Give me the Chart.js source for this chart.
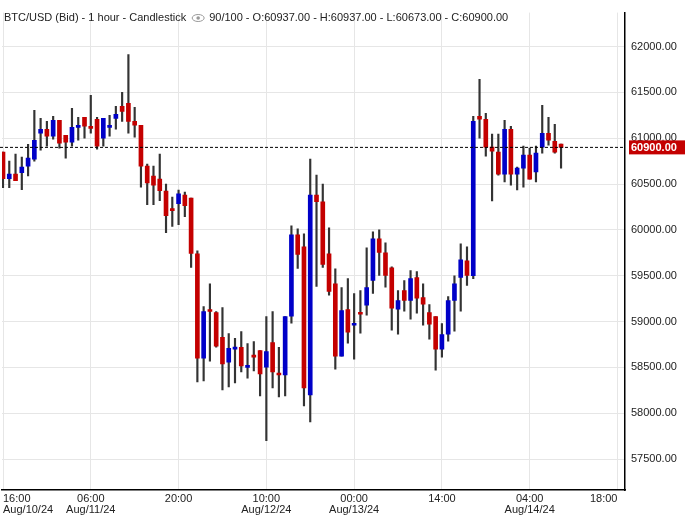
<!DOCTYPE html>
<html>
<head>
<meta charset="utf-8">
<script src="https://cdn.jsdelivr.net/npm/chart.js@4"></script>
<style>
body{margin:0;background:#fff}
#wrap{width:686px;height:515px;position:relative}
</style>
</head>
<body>
<div id="wrap"><canvas id="c"></canvas></div>
<script>
const TITLE="BTC/USD (Bid) - 1 hour - Candlestick";
const TITLE2="90/100 - O:60937.00 - H:60937.00 - L:60673.00 - C:60900.00";
const LAST=60900;

const opens=[60848,60558,60608,60623,60695,60772,61054,61098,61021,61195,
61032,60956,61119,61228,61130,61206,61000,61119,61217,61348,
61380,61184,61141,60695,60587,60555,60424,60218,60287,60381,
60348,59740,58602,59116,59098,58827,58558,58700,58718,58500,
58631,58685,58504,58772,58435,58417,59058,59946,59816,58200,
60381,60305,59739,59413,58624,59131,58960,59087,59178,59450,
59903,59750,59587,59134,59337,59232,59479,59261,59098,59055,
58700,58863,59232,59482,59663,59500,61239,61207,60902,60848,
60609,61098,60609,60674,60815,60631,60902,61054,60967,60937];
const closes=[60558,60608,60536,60685,60782,60978,61098,61021,61195,60945,
60956,61119,61141,61130,61108,60913,61217,61130,61261,61293,
61184,61141,60695,60511,60489,60428,60156,60210,60392,60265,
59743,58602,59109,59110,58732,58537,58707,58714,58515,58508,
58613,58428,58674,58450,58417,59055,59946,59732,58276,60381,
60308,59624,59330,58624,59120,58884,58982,59080,59370,59903,
59754,59504,59145,59229,59232,59468,59254,59189,58971,58700,
58859,59229,59413,59674,59504,61185,61207,60902,60859,60609,
61098,60609,60674,60815,60554,60837,61054,60978,60848,60900];
const highs=[60848,60750,60826,60793,60934,61304,61217,61184,61239,61195,
61032,61326,61228,61228,61467,61228,61217,61250,61348,61500,
61913,61337,61141,60717,60695,60826,60500,60359,60435,60413,
60348,59772,59163,59413,59109,59153,58870,58816,58892,58761,
58783,58685,59055,59109,58718,59055,60044,60011,59957,60772,
60598,60500,60022,59576,59370,59468,59305,59337,59805,59979,
60000,59859,59598,59337,59446,59555,59544,59413,59185,59055,
58979,59272,59500,59848,59816,61239,61641,61272,61044,61044,
61196,61130,60685,60913,60891,60913,61359,61228,61152,60937];
const lows=[60460,60460,60536,60438,60590,60750,60869,60913,60989,60891,
60782,60913,60978,61000,61054,60880,60913,61021,61098,61184,
61054,61011,60467,60275,60275,60319,59971,60037,60058,60145,
59591,58341,58352,58569,58721,58254,58287,58330,58450,58384,
58461,58189,57700,58276,58178,58189,58982,59580,58080,57906,
59384,59591,59287,58482,58624,58765,58591,58874,59069,59308,
59504,59374,58906,58863,59113,59026,59091,58961,58808,58471,
58613,58787,58895,59113,59395,59468,61000,60804,60315,60598,
60522,60489,60435,60467,60554,60522,60837,60924,60837,60673];

// hour index -> axis label (two lines where the day changes)
const tickHours=[0,14,28,42,56,70,84,98];
const tickLabels=[["16:00","Aug/10/24"],["06:00","Aug/11/24"],"20:00",["10:00","Aug/12/24"],
  ["00:00","Aug/13/24"],"14:00",["04:00","Aug/14/24"],"18:00"];
const yTicks=[57500,58000,58500,59000,59500,60000,60500,61000,61500,62000];

const UP="#0000c8",DOWN="#c40000",WICK="#333";
const idx=opens.map((_,i)=>i);
const colors=idx.map(i=>closes[i]>=opens[i]?UP:DOWN);

/* ===== overlays ===== */
const overlay={
  id:"overlay",
  afterDatasetsDraw(ch){
    const {ctx,chartArea:a,scales:{y}}=ch;
    const py=y.getPixelForValue(LAST);
    ctx.save();
    ctx.strokeStyle="#000";ctx.lineWidth=1;ctx.setLineDash([3,2]);
    ctx.beginPath();ctx.moveTo(0,py);ctx.lineTo(a.right,py);ctx.stroke();
    ctx.setLineDash([]);
    ctx.fillStyle="#c40000";
    ctx.fillRect(a.right+4,py-7,56,14);
    ctx.fillStyle="#fff";ctx.font="bold 11px 'Liberation Sans'";
    ctx.textBaseline="middle";ctx.fillText(LAST.toFixed(2),a.right+6,py+0.5);
    // title
    ctx.fillStyle="#222";ctx.font="11px 'Liberation Sans'";ctx.textBaseline="middle";
    ctx.fillText(TITLE,4,18);
    let w=ctx.measureText(TITLE).width+10;
    ctx.strokeStyle="#999";ctx.lineWidth=1;
    ctx.beginPath();ctx.ellipse(w+6,18,6,3.5,0,0,Math.PI*2);ctx.stroke();
    ctx.beginPath();ctx.arc(w+6,18,1.8,0,Math.PI*2);ctx.fillStyle="#999";ctx.fill();
    ctx.fillStyle="#222";ctx.fillText(TITLE2,w+17,18);
    ctx.restore();
  }
};

new Chart(document.getElementById("c"),{
  type:"bar",
  data:{datasets:[
    {data:idx.map(i=>({x:i,y:[lows[i],highs[i]]})),backgroundColor:WICK,barThickness:1.5,grouped:false,order:2},
    {data:idx.map(i=>({x:i,y:[Math.min(opens[i],closes[i]),Math.max(opens[i],closes[i])]})),
     backgroundColor:colors,barThickness:4,minBarLength:2,grouped:false,order:1}
  ]},
  options:{
    responsive:true,maintainAspectRatio:false,animation:false,
    layout:{padding:0},
    plugins:{legend:{display:false},tooltip:{enabled:false}},
    scales:{
      x:{type:"linear",offset:false,min:-0.16,max:99.2,
        afterBuildTicks:s=>{s.ticks=tickHours.map(v=>({value:v}))},
        afterFit:s=>{s.height=25},
        grid:{color:"#e6e6e6",drawTicks:false,offset:false},
        border:{color:"#000",width:1.5},
        ticks:{align:"inner",padding:3,maxRotation:0,autoSkip:false,color:"#222",
          font:{family:"Liberation Sans",size:11,lineHeight:1.05},
          callback:v=>tickLabels[tickHours.indexOf(v)]}},
      y:{position:"right",min:57163,max:62370,
        afterBuildTicks:s=>{s.ticks=yTicks.map(v=>({value:v}))},
        afterFit:s=>{s.width=61},
        grid:{color:"#e6e6e6",drawTicks:false,offset:false},
        border:{color:"#000",width:1.5},
        ticks:{padding:6,color:"#222",font:{family:"Liberation Sans",size:11},
          callback:v=>v.toFixed(2)}}
    }
  },
  plugins:[overlay]
});
</script>
</body>
</html>
